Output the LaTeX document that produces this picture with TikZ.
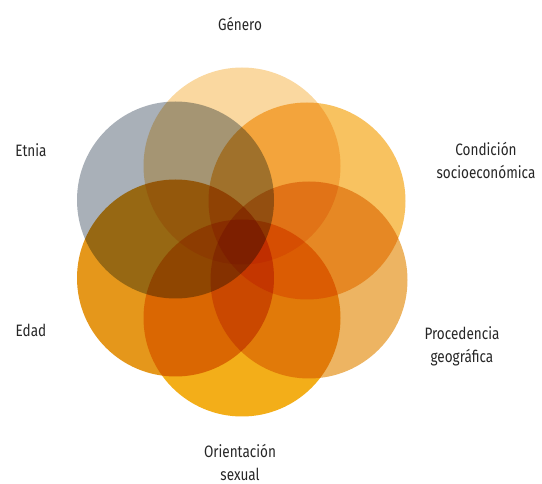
\documentclass[tikz,border=0pt]{standalone}
\usepackage{fontspec}
\setmainfont{Fira Sans}[FakeStretch=0.82]
\usetikzlibrary{arrows}

\definecolor{cGenero}{HTML}{FAD8A0}
\definecolor{cEtnia}{HTML}{A9B0B8}
\definecolor{cCondicion}{HTML}{F8C260}
\definecolor{cProcedencia}{HTML}{EDB462}
\definecolor{cEdad}{HTML}{E5971B}
\definecolor{cOrientacion}{HTML}{F3AE19}

\tikzset{
  ring/.style={circle, minimum size=197pt, inner sep=0pt, blend mode=multiply},
  tag/.style={text=black!85, font=\fontsize{16.5}{23}\selectfont, align=center, inner sep=1pt}
}

\begin{document}
\begin{tikzpicture}[x=1pt,y=-1pt]
\useasboundingbox (0,0) rectangle (542,484);

\node [ring, fill=cGenero] (genero) at (242,166) {};
\node [ring, fill=cEtnia] (etnia) at (175.5,200) {};
\node [ring, fill=cCondicion] (condicion) at (307,201) {};
\node [ring, fill=cProcedencia] (procedencia) at (309,280) {};
\node [ring, fill=cEdad] (edad) at (175.5,278) {};
\node [ring, fill=cOrientacion] (orientacion) at (242,318) {};

\node [tag] (tGenero) at (240,24) {Género};
\node [tag] (tEtnia) at (31,150) {Etnia};
\node [tag] (tCondicion) at (486,160) {Condición\\socioeconómica};
\node [tag] (tProcedencia) at (462,346) {Procedencia\\geográfica};
\node [tag] (tEdad) at (31,330) {Edad};
\node [tag] (tOrientacion) at (240,462) {Orientación\\sexual};

\end{tikzpicture}
\end{document}
